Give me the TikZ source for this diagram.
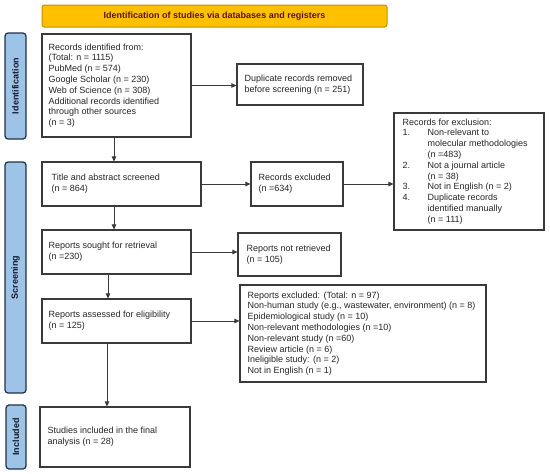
\documentclass[tikz,border=0pt]{standalone}
\usepackage{fontspec}
\setmainfont{Liberation Sans}
\usetikzlibrary{arrows.meta}
\definecolor{orangefill}{HTML}{FFC000}
\definecolor{orangeedge}{HTML}{BF9000}
\definecolor{bluefill}{HTML}{9DC3E6}
\definecolor{blueedge}{HTML}{22304A}
\definecolor{edgecol}{HTML}{3A3A3A}
\definecolor{textcol}{HTML}{262626}
\definecolor{titletext}{HTML}{5A1414}
\begin{document}
\begin{tikzpicture}[x=1pt,y=-1pt,
  box/.style={draw=edgecol, line width=1.1pt, fill=white, inner sep=0pt, rectangle},
  txt/.style={anchor=west, align=left, inner sep=0pt, text=textcol, font=\fontsize{9}{10.8}\selectfont},
  side/.style={draw=blueedge, line width=1.2pt, fill=bluefill, rounded corners=3pt, inner sep=0pt},
  sidetext/.style={rotate=90, font=\bfseries\fontsize{9}{10.8}\selectfont, text=blueedge!60!black, inner sep=0pt},
  arr/.style={draw=edgecol, line width=0.75pt, -{Triangle[length=5pt,width=4.5pt]}}
]
\useasboundingbox (0,0) rectangle (550,474);

% title bar
\node[draw=orangeedge, line width=1pt, fill=orangefill, rounded corners=2.5pt,
  minimum width=345pt, minimum height=22pt, inner sep=0pt,
  font=\bfseries\fontsize{9}{10.8}\selectfont, text=titletext] (title) at (214.5,16)
  {Identification of studies via databases and registers};

% side bars
\node[side, minimum width=21pt, minimum height=106pt] (sideI) at (15.5,86) {};
\node[sidetext] (sideIt) at (sideI.center) {Identification};
\node[side, minimum width=21pt, minimum height=231pt] (sideS) at (15.5,277.5) {};
\node[sidetext] (sideSt) at (sideS.center) {Screening};
\node[side, minimum width=20pt, minimum height=64pt] (sideN) at (16,437) {};
\node[sidetext] (sideNt) at (sideN.center) {Included};

% boxes
\node[box, minimum width=149pt, minimum height=103pt] (b1) at (116.5,85.5) {};
\node[txt] (b1t) at ([xshift=7pt]b1.west) {Records identified from:\\(Total: n = 1115)\\PubMed (n = 574)\\Google Scholar (n = 230)\\Web of Science (n = 308)\\Additional records identified\\through other sources\\(n = 3)};

\node[box, minimum width=126pt, minimum height=41pt] (dup) at (300,84.5) {};
\node[txt] (dupt) at ([xshift=8pt]dup.west) {Duplicate records removed\\before screening (n = 251)};

\node[box, minimum width=159pt, minimum height=44pt] (b2) at (121.5,184) {};
\node[txt] (b2t) at ([xshift=10pt]b2.west) {Title and abstract screened\\(n = 864)};

\node[box, minimum width=92pt, minimum height=44pt] (exc) at (297,184) {};
\node[txt] (exct) at ([xshift=8pt]exc.west) {Records excluded\\(n =634)};

\node[box, minimum width=150pt, minimum height=117pt] (list) at (469,171.5) {};
\node[txt] (listt) at ([xshift=9pt]list.west) {\begin{tabular}{@{}p{25pt}@{}l@{}}
\multicolumn{2}{@{}l@{}}{Records for exclusion:}\\
1. & Non-relevant to\\
   & molecular methodologies\\
   & (n =483)\\
2. & Not a journal article\\
   & (n = 38)\\
3. & Not in English (n = 2)\\
4. & Duplicate records\\
   & identified manually\\
   & (n = 111)
\end{tabular}};

\node[box, minimum width=149pt, minimum height=44pt] (b3) at (116.5,252) {};
\node[txt] (b3t) at ([xshift=7pt]b3.west) {Reports sought for retrieval\\(n =230)};

\node[box, minimum width=103pt, minimum height=43pt] (notret) at (289.5,254.5) {};
\node[txt] (notrett) at ([xshift=9pt]notret.west) {Reports not retrieved\\(n = 105)};

\node[box, minimum width=149pt, minimum height=44pt] (b4) at (116.5,321) {};
\node[txt] (b4t) at ([xshift=7pt]b4.west) {Reports assessed for eligibility\\(n = 125)};

\node[box, minimum width=246pt, minimum height=97pt] (repexc) at (363,333.5) {};
\node[txt] (repexct) at ([xshift=8pt]repexc.west) {Reports excluded: (Total: n = 97)\\Non-human study (e.g., wastewater, environment) (n = 8)\\Epidemiological study (n = 10)\\Non-relevant methodologies (n =10)\\Non-relevant study (n =60)\\Review article (n = 6)\\Ineligible study: (n = 2)\\Not in English (n = 1)};

\node[box, minimum width=150pt, minimum height=60pt] (b5) at (115,437) {};
\node[txt] (b5t) at ([xshift=8pt]b5.west) {Studies included in the final\\analysis (n = 28)};

% connectors
\draw[arr] (b1.east) -- (b1.east -| dup.west);
\draw[arr] ([xshift=-2.5pt]b1.south) -- ([xshift=-2.5pt]b1.south |- b2.north);
\draw[arr] (b2.east) -- (exc.west);
\draw[arr] (exc.east) -- (exc.east -| list.west);
\draw[arr] ([xshift=-2.5pt]b3.north |- b2.south) -- ([xshift=-2.5pt]b3.north);
\draw[arr] (b3.east) -- (b3.east -| notret.west);
\draw[arr] ([xshift=-8.5pt]b3.south) -- ([xshift=-8.5pt]b3.south |- b4.north);
\draw[arr] (b4.east) -- (b4.east -| repexc.west);
\draw[arr] ([xshift=-9.5pt]b4.south) -- ([xshift=-9.5pt]b4.south |- b5.north);
\end{tikzpicture}
\end{document}
